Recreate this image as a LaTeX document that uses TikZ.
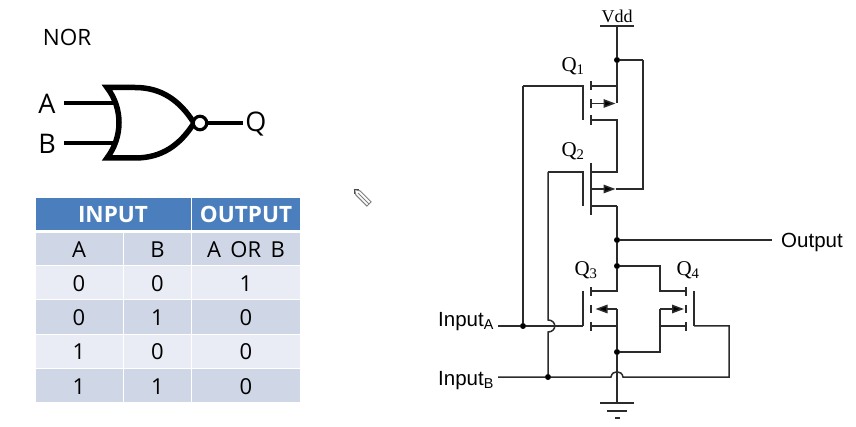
\documentclass[tikz,border=0pt]{standalone}
\usepackage{fontspec}
\setmainfont{Open Sans}
\newfontfamily\circuitserif{Liberation Serif}
\newfontfamily\circuitsans{Liberation Sans}
\usetikzlibrary{arrows.meta}

\definecolor{Header}{HTML}{4A7EBD}
\definecolor{RowDark}{HTML}{CFD7E7}
\definecolor{RowLight}{HTML}{E9EBF5}
\definecolor{Wire}{HTML}{2B2B2B}

\tikzset{
  wire/.style={line width=1.5, color=Wire},
  fetarrow/.style={line width=1.5, color=Wire, -{Triangle[length=12pt,width=8.5pt,fill=black]}},
  junction/.style={circle, fill=black, inner sep=0pt, minimum size=6},
  gatewire/.style={line width=3.6, color=black},
  cell/.style={inner sep=0pt, outer sep=0pt, text=black, text height=17.7pt, text depth=0pt, font=\fontsize{22}{22}\selectfont},
  headcell/.style={cell, fill=Header, text=white, font=\fontsize{22.5}{22.5}\selectfont\bfseries},
  darkcell/.style={cell, fill=RowDark},
  lightcell/.style={cell, fill=RowLight},
  serif label/.style={font=\fontsize{21}{21}\selectfont\circuitserif, inner sep=0pt},
  sans label/.style={font=\fontsize{20.5}{20.5}\selectfont\circuitsans, inner sep=0pt},
  gate label/.style={font=\fontsize{27}{27}\selectfont, inner sep=0pt},
}

\begin{document}
\begin{tikzpicture}[x=1pt, y=-1pt]

  \useasboundingbox (0,0) rectangle (856,427);

  %%%%%%%%%%%%%%%% NOR GATE %%%%%%%%%%%%%%%%%%
  \node[font=\fontsize{22.5}{22.5}\selectfont, inner sep=0pt] (title) at (67,37) {NOR};

  \coordinate (gA) at (64,103);
  \coordinate (gB) at (64,143);
  \coordinate (gAin) at (116,103);
  \coordinate (gBin) at (116,143);
  \coordinate (gQ) at (243,123);
  \coordinate (gTop) at (107,87.5);
  \coordinate (gBot) at (107,158);
  \coordinate (gTip) at (194,123);

  \draw[gatewire] (gA) -- (gAin);
  \draw[gatewire] (gB) -- (gBin);
  \draw[line width=5.5, line join=miter] (gTop) .. controls (123,108) and (123,137) .. (gBot)
    -- (135,158) .. controls (162,158) and (180,145) .. (gTip)
    .. controls (180,101) and (162,87.5) .. (135,87.5) -- cycle;
  \node[circle, draw=black, fill=white, line width=3.2, minimum size=13.5, inner sep=0pt] (bubble) at (200,123) {};
  \draw[gatewire] (bubble) -- (gQ);

  \node[gate label] (labelA) at (47,104) {A};
  \node[gate label] (labelB) at (47,144) {B};
  \node[gate label] (labelQ) at (256,124) {Q};

  %%%%%%%%%%%%%%%% TRUTH TABLE %%%%%%%%%%%%%%%
  \node[headcell, minimum width=155, minimum height=32] (input) at (113,214) {INPUT};
  \node[headcell, minimum width=108, minimum height=32] (output) at (246,214) {OUTPUT};

  \node[darkcell, minimum width=87, minimum height=32] (a0) at (79,249) {A};
  \node[darkcell, minimum width=67, minimum height=32] (b0) at (157.5,249) {B};
  \node[darkcell, minimum width=108, minimum height=32] (q0) at (246,249) {A \,OR\, B};

  \node[lightcell, minimum width=87, minimum height=33] (a1) at (79,283) {0};
  \node[lightcell, minimum width=67, minimum height=33] (b1) at (157.5,283) {0};
  \node[lightcell, minimum width=108, minimum height=33] (q1) at (246,283) {1};

  \node[darkcell, minimum width=87, minimum height=33] (a2) at (79,317) {0};
  \node[darkcell, minimum width=67, minimum height=33] (b2) at (157.5,317) {1};
  \node[darkcell, minimum width=108, minimum height=33] (q2) at (246,317) {0};

  \node[lightcell, minimum width=87, minimum height=33] (a3) at (79,351) {1};
  \node[lightcell, minimum width=67, minimum height=33] (b3) at (157.5,351) {0};
  \node[lightcell, minimum width=108, minimum height=33] (q3) at (246,351) {0};

  \node[darkcell, minimum width=87, minimum height=33] (a4) at (79,385.5) {1};
  \node[darkcell, minimum width=67, minimum height=33] (b4) at (157.5,385.5) {1};
  \node[darkcell, minimum width=108, minimum height=33] (q4) at (246,385.5) {0};

  %%%%%%%%%%%%%%%% PENCIL %%%%%%%%%%%%%%%%%%%%
  \draw[line width=1, color=gray, fill=white] (354.5,189.5) -- (360.1,190.9) -- (371.1,201.9)
    -- (366.9,206.1) -- (355.9,195.1) -- cycle;
  \draw[line width=0.8, color=gray] (358,193) -- (369,204);
  \draw[line width=1.6, color=black!70] (354.5,194) -- (354.5,189.5) -- (359,189.5);

  %%%%%%%%%%%%%%%% CIRCUIT %%%%%%%%%%%%%%%%%%%
  \node[font=\fontsize{18}{18}\selectfont\circuitserif, inner sep=0pt] (vdd) at (617,16) {Vdd};
  \coordinate (vddL) at (600,26);
  \coordinate (vddR) at (634,26);
  \coordinate (vddM) at (617,26);
  \node[junction] (n1) at (617,60) {};
  \coordinate (n1R) at (643,60);

  % Q1
  \node[serif label] (q1lab) at (573,66) {Q\textsubscript{1}};
  \coordinate (q1gT) at (583,86);
  \coordinate (q1gB) at (583,120);
  \coordinate (q1gL) at (523,86);
  \coordinate (q1d) at (591,86);
  \coordinate (q1b) at (591,103.5);
  \coordinate (q1s) at (591,120);
  \coordinate (q1dR) at (617,86);
  \coordinate (q1bR) at (617,103.5);
  \coordinate (q1sR) at (617,120);

  \draw[wire] (vddL) -- (vddR);
  \draw[wire] (vddM) -- (n1) -- (q1bR);
  \draw[wire] (n1) -- (n1R);
  \draw[wire] (q1dR) -- (q1d);
  \draw[wire] (591,81.5) -- (591,90.5);
  \draw[wire] (591,99) -- (591,108);
  \draw[wire] (591,115.5) -- (591,125);
  \draw[fetarrow] (q1b) -- (615.5,103.5);
  \draw[wire] (q1gB) -- (q1gT) -- (q1gL);

  % Q2
  \node[serif label] (q2lab) at (573,151) {Q\textsubscript{2}};
  \coordinate (q2gT) at (583,172);
  \coordinate (q2gB) at (583,206);
  \coordinate (q2gL) at (548,172);
  \coordinate (q2d) at (591,172);
  \coordinate (q2b) at (591,189);
  \coordinate (q2s) at (591,206);
  \coordinate (q2dR) at (617,172);
  \coordinate (q2sR) at (617,206);
  \coordinate (q2bM) at (615.5,189);
  \coordinate (q2bR) at (643,189);

  \draw[wire] (q1s) -- (q1sR) -- (q2dR) -- (q2d);
  \draw[wire] (591,163) -- (591,215);
  \draw[fetarrow] (q2b) -- (q2bM);
  \draw[wire] (q2bM) -- (q2bR) -- (n1R);
  \draw[wire] (q2gB) -- (q2gT) -- (q2gL);
  \draw[wire] (q2s) -- (q2sR);

  % Output
  \node[junction] (n2) at (617,240) {};
  \node[junction] (n3) at (617,266) {};
  \coordinate (outR) at (772,240);
  \node[sans label, anchor=west] (outlab) at (781,242.5) {Output};
  \draw[wire] (q2sR) -- (n2) -- (n3);
  \draw[wire] (n2) -- (outR);

  % Q3
  \node[serif label] (q3lab) at (586,270) {Q\textsubscript{3}};
  \coordinate (q3gT) at (583,291);
  \coordinate (q3gB) at (583,326);
  \coordinate (q3d) at (591,291);
  \coordinate (q3b) at (595.5,309);
  \coordinate (q3s) at (591,326);
  \coordinate (q3dR) at (617,291);
  \coordinate (q3bR) at (617,309);
  \coordinate (q3sR) at (617,326);
  \node[junction] (n4) at (617,352) {};
  \coordinate (gnd) at (617,403);

  \draw[wire] (n3) -- (q3dR) -- (q3d);
  \draw[wire] (591,287.5) -- (591,296);
  \draw[wire] (591,305) -- (591,313.5);
  \draw[wire] (591,322) -- (591,330.5);
  \draw[wire] (q3bR) -- (n4) -- (gnd);
  \draw[wire] (q3s) -- (q3sR);
  \draw[fetarrow] (q3bR) -- (q3b);
  \draw[wire] (q3gT) -- (q3gB);

  % Q4
  \node[serif label] (q4lab) at (688,270) {Q\textsubscript{4}};
  \coordinate (q4gT) at (694,291);
  \coordinate (q4gB) at (694,326);
  \coordinate (q4d) at (686,291);
  \coordinate (q4b) at (684,309);
  \coordinate (q4s) at (686,326);
  \coordinate (q4n3) at (660,266);
  \coordinate (q4dL) at (660,291);
  \coordinate (q4bL) at (660,309);
  \coordinate (q4sL) at (660,326);
  \coordinate (q4n4) at (660,352);

  \draw[wire] (n3) -- (q4n3) -- (q4dL) -- (q4d);
  \draw[wire] (686,287.5) -- (686,296);
  \draw[wire] (686,305) -- (686,313.5);
  \draw[wire] (686,322) -- (686,330.5);
  \draw[fetarrow] (q4bL) -- (q4b);
  \draw[wire] (q4bL) -- (q4n4) -- (n4);
  \draw[wire] (q4sL) -- (q4s);
  \draw[wire] (q4gT) -- (q4gB);

  %%%%%%%%%%%%%%%% INPUTS %%%%%%%%%%%%%%%%%%%%
  \node[sans label, anchor=west] (inA) at (438,321.5) {Input\textsubscript{A}};
  \node[sans label, anchor=west] (inB) at (438,380.5) {Input\textsubscript{B}};
  \coordinate (inAend) at (498,326);
  \coordinate (inBend) at (498,377);
  \coordinate (q4gR) at (729,326);
  \coordinate (q4gRB) at (729,377);
  \node[junction] (n5) at (523,326) {};
  \node[junction] (n6) at (548,377) {};

  \draw[wire] (q1gL) -- (n5);
  \draw[wire] (inAend) -- (n5) -- (q3gB);
  \draw[wire] (q2gL) -- (548,320) .. controls (557,320) and (557,332) .. (548,332) -- (n6);
  \draw[wire] (inBend) -- (n6) -- (611,377) .. controls (612,370) and (622,370) .. (623,377) -- (q4gRB) -- (q4gR) -- (q4gB);

  %%%%%%%%%%%%%%%% GROUND %%%%%%%%%%%%%%%%%%%%
  \draw[wire] (600,403) -- (634,403);
  \draw[wire] (607,411) -- (627,411);
  \draw[wire] (615,418) -- (619.5,418);

\end{tikzpicture}
\end{document}
